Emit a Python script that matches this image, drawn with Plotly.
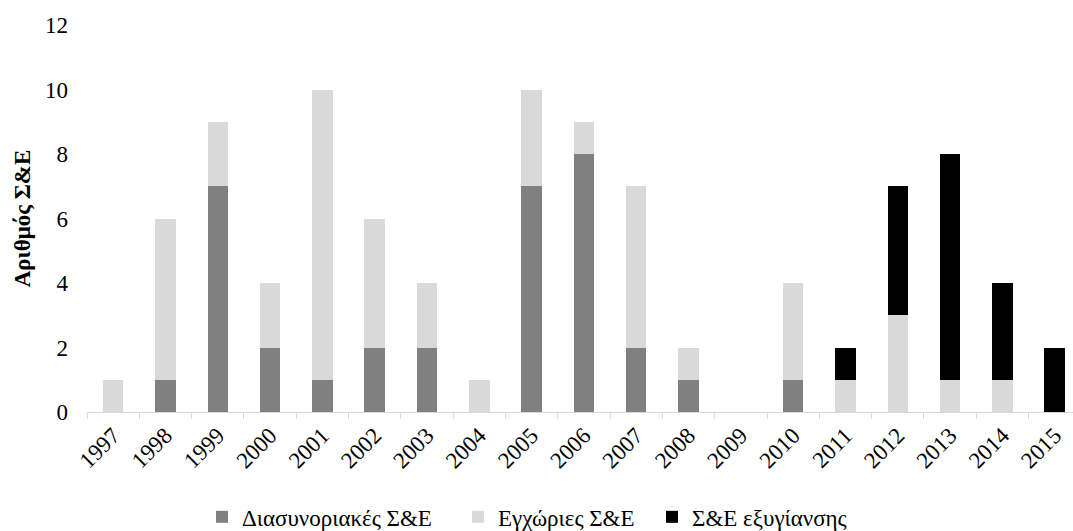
import plotly.graph_objects as go

years = [str(y) for y in range(1997, 2016)]
cross_border = [0, 1, 7, 2, 1, 2, 2, 0, 7, 8, 2, 1, 0, 1, 0, 0, 0, 0, 0]
domestic = [1, 5, 2, 2, 9, 4, 2, 1, 3, 1, 5, 1, 0, 3, 1, 3, 1, 1, 0]
restructuring = [0, 0, 0, 0, 0, 0, 0, 0, 0, 0, 0, 0, 0, 0, 1, 4, 7, 3, 2]

series = [
    ("Διασυνοριακές Σ&Ε", cross_border, "#808080", "legend"),
    ("Εγχώριες Σ&Ε", domestic, "#d9d9d9", "legend2"),
    ("Σ&Ε εξυγίανσης", restructuring, "#000000", "legend3"),
]

FONT = "Liberation Serif"
SIZE = 23

# plot area in pixels
W, H = 1073, 531
L, R, T, B = 87, 0, 24.5, 119
plot_w = W - L - R
plot_h = H - T - B

fig = go.Figure()
for name, vals, color, leg in series:
    fig.add_trace(go.Bar(
        x=years, y=vals, name=name, legend=leg, showlegend=True,
        marker=dict(color=color, line=dict(width=0)),
    ))

def legend_at(px_left, py_mid):
    return dict(
        x=(px_left - L) / plot_w, xanchor="left",
        y=(H - B - py_mid) / plot_h, yanchor="middle",
        orientation="h", bgcolor="rgba(0,0,0,0)",
        font=dict(family=FONT, size=SIZE, color="#000000"),
    )

fig.update_layout(
    showlegend=True,
    barmode="stack",
    bargap=0.61,
    width=W, height=H,
    margin=dict(l=L, r=R, t=T, b=B, pad=0, autoexpand=False),
    plot_bgcolor="white", paper_bgcolor="white",
    font=dict(family=FONT, size=SIZE, color="#000000"),
    legend=legend_at(202, 517),
    legend2=legend_at(458, 517),
    legend3=legend_at(652, 517),
    xaxis=dict(
        type="category", tickangle=-45, showgrid=False, automargin=False,
        range=[-0.5, 18.35],
        showline=True, linecolor="#d9d9d9", linewidth=1,
        ticks="outside", tickson="boundaries", ticklen=6, tickcolor="#d9d9d9",
        tickfont=dict(family=FONT, size=SIZE),
    ),
    yaxis=dict(
        range=[0, 12], dtick=2, showgrid=False, zeroline=False, automargin=False,
        showline=False, ticks="", ticklabelstandoff=18,
        tickfont=dict(family=FONT, size=SIZE),
        title=dict(text="<b>Αριθμός Σ&Ε</b>", font=dict(family=FONT, size=SIZE), standoff=7),
    ),
)

fig.write_html("out.html")
